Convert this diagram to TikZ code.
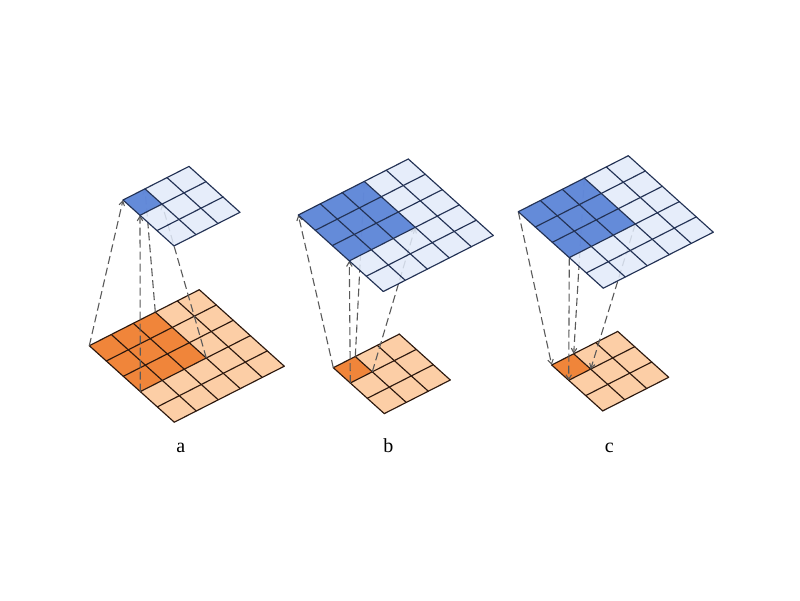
\documentclass[tikz,border=0pt]{standalone}
\usepackage{fontspec}
\setmainfont{Liberation Serif}
\usetikzlibrary{arrows.meta}
\definecolor{bluedark}{RGB}{78,122,212}
\definecolor{bluelight}{RGB}{226,235,250}
\definecolor{blueline}{RGB}{35,50,85}
\definecolor{orangedark}{RGB}{240,133,58}
\definecolor{orangelight}{RGB}{252,206,166}
\definecolor{orangeline}{RGB}{45,25,15}
\definecolor{arrgray}{RGB}{90,90,90}
\tikzset{
  conn/.style={arrgray, line width=1.1pt, dash pattern=on 8pt off 4pt,
    -{Straight Barb[length=4.5pt,width=5.5pt]}},
  lbl/.style={font=\fontsize{20}{24}\selectfont, anchor=base, inner sep=0pt}
}
\newcommand{\gridcoords}[3]{%
  \begin{scope}[shift={#2},x={(22pt,11.2pt)},y={(17pt,-15.3pt)}]
    \foreach \i in {0,...,#3}{\foreach \j in {0,...,#3}{\coordinate (#1-\i-\j) at (\i,\j);}}
  \end{scope}}
\newcommand{\gridpaint}[5]{%
  \fill[#4light, fill opacity=#5] (#1-0-0)--(#1-#2-0)--(#1-#2-#2)--(#1-0-#2)--cycle;
  \fill[#4dark, fill opacity=#5] (#1-0-0)--(#1-#3-0)--(#1-#3-#3)--(#1-0-#3)--cycle;
  \foreach \k in {0,...,#2}{%
    \draw[#4line, line width=1.15pt, line cap=round] (#1-\k-0)--(#1-\k-#2);
    \draw[#4line, line width=1.15pt, line cap=round] (#1-0-\k)--(#1-#2-\k);}}
\begin{document}
\begin{tikzpicture}[x=1pt,y={(0pt,-1pt)}]
\useasboundingbox (0,0) rectangle (800,600);
\fill[white] (0,0) rectangle (800,600);
% corner coordinates of every grid
\gridcoords{ab}{(89.3,345.7)}{5}
\gridcoords{at}{(123,200)}{3}
\gridcoords{bb}{(333.3,367.7)}{3}
\gridcoords{bt}{(298.3,215)}{5}
\gridcoords{cb}{(551.7,365)}{3}
\gridcoords{ct}{(518.3,211.7)}{5}
% lower (orange) grids
\gridpaint{ab}{5}{3}{orange}{1}
\gridpaint{bb}{3}{1}{orange}{1}
\gridpaint{cb}{3}{1}{orange}{1}
% connectors
\draw[conn] (ab-0-0) -- (at-0-0);
\draw[conn] (ab-3-0) -- (at-1-0);
\draw[conn] (ab-0-3) -- (at-0-1);
\draw[conn] (ab-3-3) -- (at-1-1);
\draw[conn] (bb-0-0) -- (bt-0-0);
\draw[conn] (bb-1-0) -- (bt-3-0);
\draw[conn] (bb-0-1) -- (bt-0-3);
\draw[conn] (bb-1-1) -- (bt-3-3);
\draw[conn] (ct-0-0) -- (cb-0-0);
\draw[conn] (ct-3-0) -- (cb-1-0);
\draw[conn] (ct-0-3) -- (cb-0-1);
\draw[conn] (ct-3-3) -- (cb-1-1);
% upper (blue) grids
\gridpaint{at}{3}{1}{blue}{0.85}
\gridpaint{bt}{5}{3}{blue}{0.85}
\gridpaint{ct}{5}{3}{blue}{0.85}
% labels
\node[lbl] (la) at (180.7,452) {a};
\node[lbl] (lb) at (388.3,452) {b};
\node[lbl] (lc) at (609.3,452) {c};
\end{tikzpicture}
\end{document}
